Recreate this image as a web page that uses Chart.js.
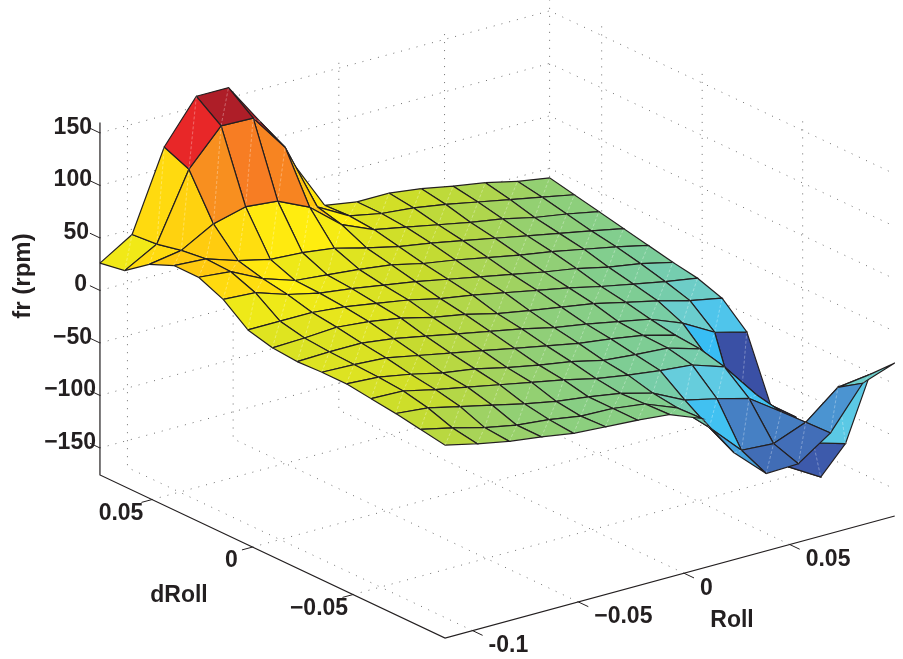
<!DOCTYPE html>
<html>
<head>
<meta charset="utf-8">
<style>
  html, body { margin: 0; padding: 0; background: #fff; }
  canvas { display: block; }
</style>
<script src="https://cdn.jsdelivr.net/npm/chart.js@4"></script>
</head>
<body>
<canvas id="surfaceChart" width="903" height="659"></canvas>
<script>
// Grid nodes
const rollValues = [-0.1130, -0.0978, -0.0826, -0.0674, -0.0522, -0.0371, -0.0219, -0.0067, 0.0085, 0.0237, 0.0389, 0.0541, 0.0693, 0.0845, 0.0997];
const dRollValues = [0.0759, 0.0636, 0.0514, 0.0391, 0.0268, 0.0146, 0.0023, -0.0099, -0.0222, -0.0345, -0.0467, -0.0590, -0.0713, -0.0835, -0.0958];

// fr (rpm), one row per dRoll value, one column per Roll value
const frValues = [
    [26, 45, 120, 160, 160, 119, 72, 23, 18, 18, 14, 8, 3, -4, -9],
    [30, 47, 110, 143, 142, 106, 41, 24, 18, 15, 10, 4, -2, -8, -14],
    [47, 52, 69, 77, 74, 60, 35, 22, 16, 10, 4, -1, -8, -13, -19],
    [57, 55, 45, 38, 36, 32, 24, 17, 12, 6, 0, -6, -12, -18, -24],
    [57, 54, 39, 29, 26, 23, 19, 12, 7, 1, -5, -10, -16, -22, -29],
    [47, 45, 35, 28, 24, 19, 14, 8, 2, -4, -10, -15, -22, -27, -34],
    [29, 29, 29, 26, 21, 16, 9, 4, -2, -8, -14, -21, -27, -33, -38],
    [23, 24, 26, 23, 18, 10.5, 5, -2.5, -8, -13, -18, -25, -32, -40, -46],
    [21, 22, 22, 18, 12, 6, 0, -6, -13, -18, -24, -30, -42, -59, -67],
    [22, 21, 19, 13, 7, 1, -5, -11, -17, -21, -26, -34, -63, -130, -128],
    [22, 20, 14.5, 7.5, 3, -4, -10, -15, -22, -25, -27, -36, -68, -103, -126],
    [19, 18, 11, 5, -1, -7, -13, -20, -25, -29, -32, -42, -77, -154, -172],
    [16, 13, 6, -1, -8, -14, -18, -23, -31, -46, -53, -61, -82, -120, -129],
    [12, 5, -3, -9, -12, -17, -18, -22, -34, -61, -91, -93, -81, -56, -52],
    [8, 1, -5, -9, -14, -16, -18, -21, -33, -74, -102, -101, -80, -41, -30]
];

const rollTicks = [-0.1, -0.05, 0, 0.05];
const rollTickLabels = ['-0.1', '\u22120.05', '0', '0.05'];
const dRollTicks = [0.05, 0, -0.05];
const dRollTickLabels = ['0.05', '0', '\u22120.05'];
const frTicks = [150, 100, 50, 0, -50, -100, -150];
const frTickLabels = ['150', '100', '50', '0', '\u221250', '\u2212100', '\u2212150'];

// Axis limits
const rollMin = -0.113, rollMax = 0.0997;
const dRollMin = -0.0958, dRollMax = 0.0759;
const frMin = -175.7, frMax = 160;

// Fixed 3D view, same for every mark
function project(roll, dRoll, fr) {
    return {
        x: 491.4 + 2114 * roll - 2010 * dRoll,
        y: 297.7 - 574 * roll - 950 * dRoll - 1.05 * fr
    };
}

// Printed jet colormap
const colorStops = [
    [0, 40, 50, 130], [0.125, 58, 80, 165], [0.21, 65, 108, 182], [0.28, 75, 150, 210],
    [0.33, 55, 190, 245], [0.345, 90, 200, 230], [0.375, 100, 205, 225], [0.44, 125, 205, 150],
    [0.5, 150, 208, 110], [0.56, 200, 220, 45], [0.625, 255, 238, 15], [0.7, 255, 195, 15],
    [0.72, 248, 148, 30], [0.75, 247, 125, 35], [0.84, 238, 40, 40], [0.94, 175, 30, 40], [1, 170, 28, 38]
];

function frColor(fr) {
    const t = (fr + 172) / 332;
    for (let k = 1; k < colorStops.length; k++) {
        if (t <= colorStops[k][0]) {
            const a = colorStops[k - 1], b = colorStops[k];
            const f = (t - a[0]) / (b[0] - a[0]);
            const mix = n => Math.round(a[n] + (b[n] - a[n]) * f);
            return `rgb(${mix(1)}, ${mix(2)}, ${mix(3)})`;
        }
    }
    return 'rgb(170, 28, 38)';
}

const INK = '#231f20';

function lineDataset(points, color, width, dash) {
    return {
        data: points,
        showLine: true,
        fill: false,
        borderColor: color,
        borderWidth: width,
        borderDash: dash || [],
        pointRadius: 0,
        tension: 0
    };
}

// Surface cells, nearest first: Chart.js paints the first dataset last
const cells = [];
for (let j = 0; j < dRollValues.length - 1; j++) {
    for (let i = 0; i < rollValues.length - 1; i++) {
        const corners = [[i, j], [i + 1, j], [i + 1, j + 1], [i, j + 1]];
        let depth = 0;
        corners.forEach(([a, b]) => {
            depth += 120750 * (rollValues[a] - rollMin) / (rollMax - rollMin)
                + 157500 * (dRollValues[b] - dRollMin) / (dRollMax - dRollMin)
                - 115440 * (frValues[b][a] - frMin) / (frMax - frMin);
        });
        cells.push({ corners, depth, color: frColor(frValues[j + 1][i]) });
    }
}
cells.sort((p, q) => p.depth - q.depth);

const nodePoint = ([a, b]) => project(rollValues[a], dRollValues[b], frValues[b][a]);

const surfaceDatasets = [];
cells.forEach(cell => {
    const pts = cell.corners.map(nodePoint);
    // faint seam across each facet, as in the printed figure
    surfaceDatasets.push(lineDataset([pts[3], pts[1]], 'rgba(255, 255, 255, 0.45)', 0.7, [3, 2]));
    surfaceDatasets.push({
        data: [...pts, pts[0]],
        showLine: true,
        fill: 'shape',
        backgroundColor: cell.color,
        borderColor: INK,
        borderWidth: 1.2,
        pointRadius: 0,
        tension: 0
    });
});

// Dotted box grid
const DOT = [1, 7];
const DOT_COLOR = '#6e6e6e';
const gridDatasets = [];
frTicks.forEach(fr => {
    gridDatasets.push(lineDataset([
        project(rollMin, dRollMax, fr), project(rollMax, dRollMax, fr), project(rollMax, dRollMin, fr)
    ], DOT_COLOR, 1, DOT));
});
rollTicks.forEach(roll => {
    gridDatasets.push(lineDataset([
        project(roll, dRollMin, frMin), project(roll, dRollMax, frMin), project(roll, dRollMax, frMax)
    ], DOT_COLOR, 1, DOT));
});
dRollTicks.forEach(dRoll => {
    gridDatasets.push(lineDataset([
        project(rollMin, dRoll, frMin), project(rollMax, dRoll, frMin), project(rollMax, dRoll, frMax)
    ], DOT_COLOR, 1, DOT));
});
gridDatasets.push(lineDataset([
    project(rollMax, dRollMax, frMin), project(rollMax, dRollMax, frMax)
], DOT_COLOR, 1, DOT));

// Solid axes and tick marks
const axisDatasets = [
    lineDataset([
        project(rollMin, dRollMax, frMax), project(rollMin, dRollMax, frMin),
        project(rollMin, dRollMin, frMin), project(rollMax, dRollMin, frMin)
    ], INK, 1.2)
];
frTicks.forEach(fr => {
    axisDatasets.push(lineDataset([
        project(rollMin, dRollMax, fr), project(rollMin, dRollMax + 0.005, fr)
    ], INK, 1));
});
rollTicks.forEach(roll => {
    axisDatasets.push(lineDataset([
        project(roll, dRollMin, frMin), project(roll, dRollMin - 0.005, frMin)
    ], INK, 1));
});
dRollTicks.forEach(dRoll => {
    axisDatasets.push(lineDataset([
        project(rollMin, dRoll, frMin), project(rollMin - 0.005, dRoll, frMin)
    ], INK, 1));
});

// Tick labels and axis titles
const axisTextPlugin = {
    id: 'axisText',
    afterDraw(chart) {
        const { ctx, scales } = chart;
        const px = p => ({ x: scales.x.getPixelForValue(p.x), y: scales.y.getPixelForValue(p.y) });
        ctx.save();
        ctx.fillStyle = INK;
        ctx.font = 'bold 23px "Liberation Sans", Arial, sans-serif';
        ctx.textBaseline = 'middle';

        ctx.textAlign = 'right';
        const frLabelShift = [-8, -8, -11, -13, -8, -4, -4];
        frTicks.forEach((fr, k) => {
            const p = px(project(rollMin, dRollMax, fr));
            ctx.fillText(frTickLabels[k], p.x + frLabelShift[k], p.y - 5.5);
        });
        ctx.textAlign = 'left';
        rollTicks.forEach((roll, k) => {
            const p = px(project(roll, dRollMin, frMin));
            ctx.fillText(rollTickLabels[k], p.x + 16, p.y + 15);
        });
        ctx.textAlign = 'center';
        const dRollLabelShift = [-31, -21, -34];
        dRollTicks.forEach((dRoll, k) => {
            const p = px(project(rollMin, dRoll, frMin));
            ctx.fillText(dRollTickLabels[k], p.x + dRollLabelShift[k], p.y + 14);
        });

        ctx.fillText('dRoll', 179, 596);
        ctx.fillText('Roll', 732, 621);
        ctx.font = 'bold 24px "Liberation Sans", Arial, sans-serif';
        ctx.translate(23, 276);
        ctx.rotate(-Math.PI / 2);
        ctx.fillText('fr (rpm)', 0, 0);
        ctx.restore();
    }
};

new Chart(document.getElementById('surfaceChart'), {
    type: 'scatter',
    data: { datasets: [...axisDatasets, ...surfaceDatasets, ...gridDatasets] },
    plugins: [axisTextPlugin],
    options: {
        responsive: false,
        animation: false,
        layout: { padding: 0 },
        scales: {
            x: { type: 'linear', display: false, min: 0, max: 903 },
            y: { type: 'linear', display: false, min: 0, max: 659, reverse: true }
        },
        plugins: {
            legend: { display: false },
            tooltip: { enabled: false }
        }
    }
});
</script>
</body>
</html>
